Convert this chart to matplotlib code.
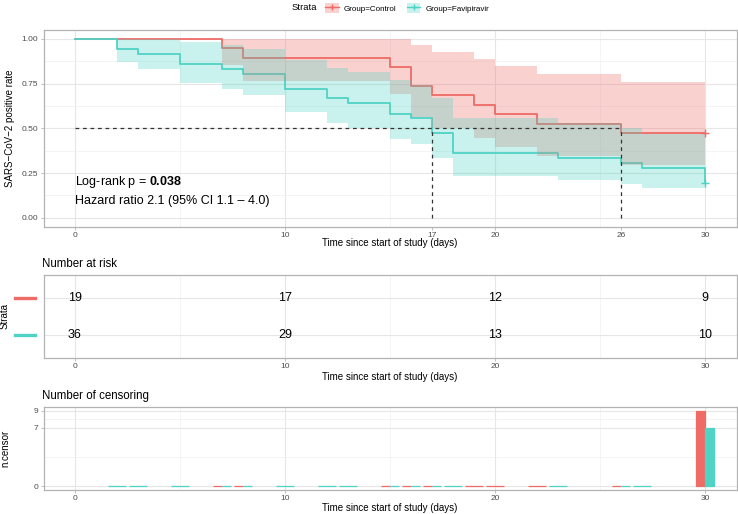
import numpy as np
import matplotlib
matplotlib.use('Agg')
import matplotlib.pyplot as plt
import matplotlib.transforms as mtransforms
from matplotlib.lines import Line2D
from matplotlib.patches import Patch

plt.rcParams['font.family'] = ['Liberation Sans', 'DejaVu Sans']
plt.rcParams['mathtext.fontset'] = 'custom'
plt.rcParams['mathtext.rm'] = 'Liberation Sans'
plt.rcParams['mathtext.bf'] = 'Liberation Sans:bold'

# ---- data ----
groups = ['Group=Control', 'Group=Favipiravir']
colors = ['#EE6B66', '#4FD3C4']

ctrl_time = [0, 7, 8, 15, 16, 17, 19, 20, 22, 26, 30]
ctrl_surv = [1.0, 0.947, 0.895, 0.842, 0.737, 0.684, 0.632, 0.579, 0.526, 0.474, 0.474]
ctrl_lower = [1.0, 0.852, 0.767, 0.693, 0.563, 0.504, 0.448, 0.395, 0.344, 0.295, 0.295]
ctrl_upper = [1.0, 1.0, 1.0, 1.0, 0.964, 0.929, 0.890, 0.850, 0.806, 0.761, 0.761]

fav_time = [0, 2, 3, 5, 7, 8, 10, 12, 13, 15, 16, 17, 18, 23, 26, 27, 30]
fav_surv = [1.0, 0.944, 0.917, 0.861, 0.833, 0.806, 0.722, 0.667, 0.639, 0.583,
            0.556, 0.472, 0.361, 0.333, 0.306, 0.278, 0.194]
fav_lower = [1.0, 0.872, 0.831, 0.755, 0.720, 0.686, 0.590, 0.529, 0.500, 0.443,
             0.415, 0.334, 0.234, 0.210, 0.187, 0.164, 0.100]
fav_upper = [1.0, 1.0, 1.0, 0.982, 0.964, 0.946, 0.884, 0.840, 0.817, 0.769,
             0.744, 0.667, 0.558, 0.529, 0.500, 0.470, 0.378]

censor_x = [30, 30]
censor_y = [0.474, 0.194]
medians = [26, 17]

risk_times = [0, 10, 20, 30]
risk_ctrl = [19, 17, 12, 9]
risk_fav = [36, 29, 13, 10]

ncens_ctrl_time = [7, 8, 15, 16, 17, 19, 20, 22, 26, 30]
ncens_ctrl = [0, 0, 0, 0, 0, 0, 0, 0, 0, 9]
ncens_fav_time = [2, 3, 5, 7, 8, 10, 12, 13, 15, 16, 17, 18, 23, 26, 27, 30]
ncens_fav = [0, 0, 0, 0, 0, 0, 0, 0, 0, 0, 0, 0, 0, 0, 0, 7]

xlab = 'Time since start of study (days)'

# ---- layout (pixels) ----
W, H = 738, 514
def rect(left, top, right, bottom):
    return [left / W, 1 - bottom / H, (right - left) / W, (bottom - top) / H]

fig = plt.figure(figsize=(W / 100, H / 100), dpi=100)
ax = fig.add_axes(rect(43.5, 30, 736.5, 226.7))
axr = fig.add_axes(rect(43.5, 275, 736.5, 358))
axc = fig.add_axes(rect(43.5, 407, 736.5, 490))

grid_major = '#E6E6E6'
grid_minor = '#F0F0F0'
border = '#B3B3B3'
ticklab = '#4D4D4D'

def style(a, xticks, yticks, ymajor, yminor):
    a.set_xlim(-1.5, 31.5)
    for s in a.spines.values():
        s.set_color(border)
        s.set_linewidth(0.9)
    for x in range(0, 31, 10):
        a.axvline(x, color=grid_major, lw=0.8, zorder=0)
    for x in range(5, 31, 10):
        a.axvline(x, color=grid_minor, lw=0.5, zorder=0)
    for y in ymajor:
        a.axhline(y, color=grid_major, lw=0.8, zorder=0)
    for y in yminor:
        a.axhline(y, color=grid_minor, lw=0.5, zorder=0)
    a.set_xticks(xticks)
    a.set_yticks(yticks)
    a.tick_params(length=2.3, width=0.6, color=border, labelsize=6,
                  labelcolor=ticklab, pad=1.5)

# ---- survival curves ----
style(ax, [0, 10, 17, 20, 26, 30], [0, 0.25, 0.5, 0.75, 1.0],
      [0, 0.25, 0.5, 0.75, 1.0], [0.125, 0.375, 0.625, 0.875])
ax.set_ylim(-0.05, 1.05)
ax.set_yticklabels(['0.00', '0.25', '0.50', '0.75', '1.00'])

curves = [(ctrl_time, ctrl_surv, ctrl_lower, ctrl_upper),
          (fav_time, fav_surv, fav_lower, fav_upper)]
for (t, s, lo, up), c in zip(curves, colors):
    ax.step(t, s, where='post', color=c, lw=1.3, zorder=2)
for (t, s, lo, up), c in zip(curves, colors):
    ax.fill_between(t, lo, up, step='post', color=c, alpha=0.3, lw=0, zorder=3)
for xc, yc, c in zip(censor_x, censor_y, colors):
    ax.plot(xc, yc, marker='+', ms=6, mew=1, color=c, zorder=5)

# median lines
ax.plot([0, max(medians)], [0.5, 0.5], ls=(0, (3, 3)), color='#333333', lw=0.9, zorder=4)
for m in medians:
    ax.plot([m, m], [0, 0.5], ls=(0, (3, 3)), color='#333333', lw=0.9, zorder=4)

ax.text(0, 0.2, r'Log-rank p = $\mathbf{0.038}$', fontsize=9, va='center', zorder=6)
ax.text(0, 0.093, 'Hazard ratio 2.1 (95% CI 1.1 \u2013 4.0)', fontsize=9, va='center', zorder=6)

fig.text(390 / W, 1 - 243 / H, xlab, fontsize=7, ha='center', va='center')
fig.text(10 / W, 1 - 128 / H, 'SARS\u2212CoV\u22122 positive rate', fontsize=7,
         rotation=90, ha='center', va='center')

# legend
fig.text(304 / W, 1 - 8 / H, 'Strata', fontsize=6.8, ha='center', va='center')
handles = [(Patch(facecolor=c, alpha=0.3, edgecolor='none'),
            Line2D([], [], color=c, lw=1, marker='+', ms=5)) for c in colors]
fig.legend(handles, groups, ncol=2, loc='center', bbox_to_anchor=(407 / W, 1 - 8 / H),
           frameon=False, fontsize=5.8, handlelength=1.7, handleheight=1.7,
           handletextpad=0.6, columnspacing=1.3, borderpad=0)

# ---- number at risk ----
style(axr, [0, 10, 20, 30], [1, 2], [1, 2], [])
axr.set_ylim(0.4, 2.6)
axr.set_yticklabels(['', ''])
axr.tick_params(axis='y', length=0)
for t, a, b in zip(risk_times, risk_ctrl, risk_fav):
    axr.text(t, 2, str(a), fontsize=9, ha='center', va='center')
    axr.text(t, 1, str(b), fontsize=9, ha='center', va='center')
tr = mtransforms.blended_transform_factory(fig.transFigure, axr.transData)
for yy, c in zip([2, 1], colors):
    fig.add_artist(Line2D([15 / W, 35 / W], [yy, yy], transform=tr, color=c, lw=2.4))
fig.text(42 / W, 1 - 264 / H, 'Number at risk', fontsize=8.3, va='center')
fig.text(5 / W, 1 - 316 / H, 'Strata', fontsize=7, rotation=90, ha='center', va='center')
fig.text(390 / W, 1 - 377 / H, xlab, fontsize=7, ha='center', va='center')

# ---- number of censoring ----
style(axc, [0, 10, 20, 30], [0, 7, 9], [0, 7, 9], [3.5, 8])
axc.set_ylim(-0.45, 9.45)
all_t = sorted(set(ncens_ctrl_time) | set(ncens_fav_time))
for t in all_t:
    present = []
    if t in ncens_ctrl_time:
        present.append((ncens_ctrl[ncens_ctrl_time.index(t)], colors[0]))
    if t in ncens_fav_time:
        present.append((ncens_fav[ncens_fav_time.index(t)], colors[1]))
    w = 0.9 / len(present)
    for k, (v, c) in enumerate(present):
        xc = t - 0.45 + w * (k + 0.5)
        axc.bar(xc, v, width=w, color=c, edgecolor=c, lw=0.9, zorder=2)
fig.text(42 / W, 1 - 396 / H, 'Number of censoring', fontsize=8.3, va='center')
fig.text(5 / W, 1 - 448 / H, 'n.censor', fontsize=7, rotation=90, ha='center', va='center')
fig.text(390 / W, 1 - 508 / H, xlab, fontsize=7, ha='center', va='center')

fig.savefig('out.png', dpi=100)
